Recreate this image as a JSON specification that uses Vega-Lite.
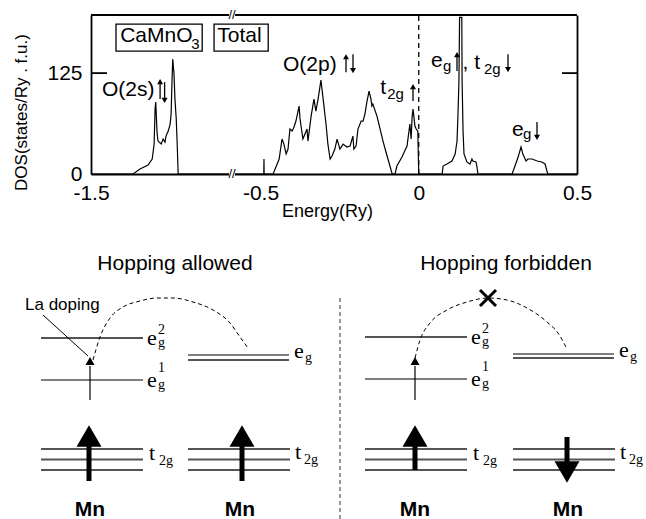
{
  "$schema": "https://vega.github.io/schema/vega-lite/v6.json",
  "padding": {"left": 12, "top": 9, "right": 0, "bottom": 0},
  "config": {"view": {"stroke": null}, "font": "Liberation Sans"},
  "datasets": {
    "dos": [
      {"p":"L","E":-1.5,"D":0},{"p":"L","E":-1.369,"D":0},{"p":"L","E":-1.347,"D":6.2},{"p":"L","E":-1.322,"D":11.1},{"p":"L","E":-1.309,"D":18.6},{"p":"L","E":-1.303,"D":37.1},{"p":"L","E":-1.3,"D":80.4},{"p":"L","E":-1.298,"D":89.1},{"p":"L","E":-1.294,"D":52.0},{"p":"L","E":-1.291,"D":40.8},{"p":"L","E":-1.281,"D":37.1},{"p":"L","E":-1.275,"D":43.3},{"p":"L","E":-1.269,"D":39.6},{"p":"L","E":-1.266,"D":47.0},{"p":"L","E":-1.259,"D":53.2},{"p":"L","E":-1.253,"D":61.9},{"p":"L","E":-1.25,"D":74.3},{"p":"L","E":-1.247,"D":117.6},{"p":"L","E":-1.245,"D":142.3},{"p":"L","E":-1.241,"D":123.8},{"p":"L","E":-1.238,"D":92.8},{"p":"L","E":-1.234,"D":68.1},{"p":"L","E":-1.231,"D":37.1},{"p":"L","E":-1.228,"D":0},{"p":"L","E":-1.06,"D":0},
      {"p":"R","E":-0.59,"D":0},{"p":"R","E":-0.4895,"D":0},{"p":"R","E":-0.489,"D":18.6},{"p":"R","E":-0.4885,"D":0},{"p":"R","E":-0.46,"D":0},{"p":"R","E":-0.441,"D":18.6},{"p":"R","E":-0.432,"D":43.3},{"p":"R","E":-0.426,"D":37.1},{"p":"R","E":-0.419,"D":24.8},{"p":"R","E":-0.413,"D":30.9},{"p":"R","E":-0.407,"D":55.7},{"p":"R","E":-0.4,"D":53.2},{"p":"R","E":-0.394,"D":58.2},{"p":"R","E":-0.388,"D":65.6},{"p":"R","E":-0.378,"D":84.2},{"p":"R","E":-0.375,"D":68.1},{"p":"R","E":-0.366,"D":43.3},{"p":"R","E":-0.353,"D":55.7},{"p":"R","E":-0.35,"D":40.8},{"p":"R","E":-0.34,"D":71.8},{"p":"R","E":-0.331,"D":92.8},{"p":"R","E":-0.325,"D":78.0},{"p":"R","E":-0.318,"D":92.8},{"p":"R","E":-0.309,"D":116.3},{"p":"R","E":-0.302,"D":92.8},{"p":"R","E":-0.293,"D":61.9},{"p":"R","E":-0.287,"D":37.1},{"p":"R","E":-0.28,"D":18.6},{"p":"R","E":-0.274,"D":22.3},{"p":"R","E":-0.265,"D":30.9},{"p":"R","E":-0.258,"D":43.3},{"p":"R","E":-0.249,"D":30.9},{"p":"R","E":-0.239,"D":37.1},{"p":"R","E":-0.227,"D":33.4},{"p":"R","E":-0.217,"D":34.7},{"p":"R","E":-0.208,"D":47.0},{"p":"R","E":-0.205,"D":30.9},{"p":"R","E":-0.198,"D":34.7},{"p":"R","E":-0.192,"D":55.7},{"p":"R","E":-0.182,"D":65.6},{"p":"R","E":-0.176,"D":65.6},{"p":"R","E":-0.17,"D":74.3},{"p":"R","E":-0.164,"D":89.1},{"p":"R","E":-0.157,"D":102.7},{"p":"R","E":-0.151,"D":92.8},{"p":"R","E":-0.148,"D":84.2},{"p":"R","E":-0.145,"D":86.6},{"p":"R","E":-0.132,"D":71.8},{"p":"R","E":-0.122,"D":55.7},{"p":"R","E":-0.113,"D":40.8},{"p":"R","E":-0.1,"D":22.3},{"p":"R","E":-0.091,"D":9.9},{"p":"R","E":-0.084,"D":0},{"p":"R","E":-0.075,"D":0},{"p":"R","E":-0.069,"D":9.9},{"p":"R","E":-0.053,"D":21.0},{"p":"R","E":-0.037,"D":34.7},{"p":"R","E":-0.028,"D":61.9},{"p":"R","E":-0.024,"D":43.3},{"p":"R","E":-0.021,"D":70.5},{"p":"R","E":-0.018,"D":80.4},{"p":"R","E":-0.012,"D":59.4},{"p":"R","E":-0.008,"D":55.7},{"p":"R","E":-0.003,"D":53.2},{"p":"R","E":0.0,"D":0},{"p":"R","E":0.074,"D":0},{"p":"R","E":0.077,"D":9.9},{"p":"R","E":0.089,"D":12.4},{"p":"R","E":0.105,"D":16.1},{"p":"R","E":0.115,"D":24.8},{"p":"R","E":0.121,"D":40.8},{"p":"R","E":0.124,"D":74.3},{"p":"R","E":0.127,"D":115.1},{"p":"R","E":0.129,"D":194},{"p":"R","E":0.136,"D":194},{"p":"R","E":0.137,"D":115.1},{"p":"R","E":0.14,"D":53.2},{"p":"R","E":0.143,"D":24.8},{"p":"R","E":0.152,"D":14.9},{"p":"R","E":0.162,"D":12.4},{"p":"R","E":0.168,"D":18.6},{"p":"R","E":0.171,"D":16.1},{"p":"R","E":0.181,"D":14.9},{"p":"R","E":0.184,"D":8.7},{"p":"R","E":0.187,"D":0},{"p":"R","E":0.295,"D":0},{"p":"R","E":0.304,"D":9.9},{"p":"R","E":0.314,"D":21.0},{"p":"R","E":0.323,"D":33.4},{"p":"R","E":0.329,"D":24.8},{"p":"R","E":0.339,"D":16.1},{"p":"R","E":0.345,"D":18.6},{"p":"R","E":0.358,"D":18.6},{"p":"R","E":0.374,"D":16.1},{"p":"R","E":0.389,"D":14.9},{"p":"R","E":0.399,"D":12.4},{"p":"R","E":0.405,"D":3.7},{"p":"R","E":0.408,"D":0},{"p":"R","E":0.5,"D":0}
    ]
  },
  "spacing": 15,
  "vconcat": [
    {
      "hconcat": [
        {
          "width": 141, "height": 159,
          "encoding": {
            "x": {"field": "E", "type": "quantitative", "scale": {"domain": [-1.5, -1.06], "nice": false, "zero": false},
                  "axis": {"values": [-1.5], "labelExpr": "datum.value == 0 ? '0' : (datum.value < 0 ? '-' : '') + format(abs(datum.value), '.1f')", "title": null, "ticks": false, "grid": false, "labelFontSize": 21, "labelPadding": 8, "labelFlush": false, "labelColor": "black", "domainColor": "black", "domainWidth": 1.8}},
            "y": {"field": "D", "type": "quantitative", "scale": {"domain": [0, 197], "nice": false, "zero": false},
                  "axis": {"values": [0, 125], "ticks": false, "grid": false, "labelFontSize": 21, "labelPadding": 9, "labelColor": "black", "domainColor": "black", "domainWidth": 1.8,
                           "title": "DOS(states/Ry . f.u.)", "titleFontSize": 17, "titleFontWeight": "normal", "titleColor": "black", "titleX": -70, "titleY": 97, "titleAngle": 270, "titleAlign": "center", "titleBaseline": "middle"}}
          },
          "layer": [
            {"data": {"name": "dos"}, "transform": [{"filter": "datum.p == 'L'"}], "mark": {"type": "line", "color": "black", "strokeWidth": 1.2}},
            {"data": {"values": [{"E": -1.5, "E2": -1.06, "D": 197}, {"E": -1.5, "E2": -1.45, "D": 125}]}, "mark": {"type": "rule", "color": "black", "strokeWidth": 1.8}, "encoding": {"x2": {"field": "E2"}}},
            {"data": {"values": [{"E": -1.422, "E2": -1.153, "D": 152.2, "D2": 185.6}, {"E": -1.116, "E2": -0.947, "D": 152.2, "D2": 185.6}]}, "mark": {"type": "rect", "filled": false, "color": "black", "strokeWidth": 1.3}, "encoding": {"x2": {"field": "E2"}, "y2": {"field": "D2"}}},
            {"data": {"values": [{"E": -1.409, "D": 163.4, "t": "CaMnO"}, {"E": -1.106, "D": 163.4, "t": "Total"}, {"E": -1.466, "D": 96.5, "t": "O(2s)"}]}, "mark": {"type": "text", "align": "left", "baseline": "alphabetic", "fontSize": 21, "color": "black"}, "encoding": {"text": {"field": "t"}}},
            {"data": {"values": [{"E": -1.187, "D": 154.7, "t": "3"}]}, "mark": {"type": "text", "align": "left", "baseline": "alphabetic", "fontSize": 15, "color": "black"}, "encoding": {"text": {"field": "t"}}},
            {"data": {"values": [{"E": -1.2844, "D": 92.8, "D2": 115}, {"E": -1.2703, "D": 113.9, "D2": 91}]}, "mark": {"type": "rule", "color": "black", "strokeWidth": 1.3}, "encoding": {"y2": {"field": "D2"}}},
            {"data": {"values": [{"E": -1.2844, "D": 114.4}]}, "mark": {"type": "point", "shape": "triangle-up", "size": 36, "filled": true, "color": "black", "opacity": 1}},
            {"data": {"values": [{"E": -1.2703, "D": 91.1}]}, "mark": {"type": "point", "shape": "triangle-down", "size": 36, "filled": true, "color": "black", "opacity": 1}}
          ]
        },
        {
          "width": 345, "height": 159,
          "encoding": {
            "x": {"field": "E", "type": "quantitative", "scale": {"domain": [-0.59, 0.5], "nice": false, "zero": false},
                  "axis": {"values": [-0.5, 0, 0.5], "labelExpr": "datum.value == 0 ? '0' : (datum.value < 0 ? '-' : '') + format(abs(datum.value), '.1f')", "ticks": false, "grid": false, "labelFontSize": 21, "labelPadding": 8, "labelFlush": false, "labelColor": "black", "domainColor": "black", "domainWidth": 1.8,
                           "title": "Energy(Ry)", "titleFontSize": 18, "titleFontWeight": "normal", "titleColor": "black", "titleX": 95, "titleY": 37, "titleAlign": "center", "titleBaseline": "middle"}},
            "y": {"field": "D", "type": "quantitative", "scale": {"domain": [0, 197], "nice": false, "zero": false},
                  "axis": {"orient": "right", "labels": false, "ticks": false, "grid": false, "title": null, "domainColor": "black", "domainWidth": 1.8}}
          },
          "layer": [
            {"data": {"name": "dos"}, "transform": [{"filter": "datum.p == 'R'"}], "mark": {"type": "line", "color": "black", "strokeWidth": 1.2}},
            {"data": {"values": [{"E": -0.59, "E2": 0.5, "D": 197}, {"E": 0.4526, "E2": 0.5, "D": 125}]}, "mark": {"type": "rule", "color": "black", "strokeWidth": 1.8}, "encoding": {"x2": {"field": "E2"}}},
            {"data": {"values": [{"E": 0, "D": 0, "D2": 197}]}, "mark": {"type": "rule", "color": "black", "strokeWidth": 1.3, "strokeDash": [5, 4]}, "encoding": {"y2": {"field": "D2"}}},
            {"data": {"values": [{"E": -0.5995, "E2": -0.5805, "D": 193.3, "D2": 200.7}, {"E": -0.5995, "E2": -0.5805, "D": -3.7, "D2": 3.7}]}, "mark": {"type": "rect", "color": "white"}, "encoding": {"x2": {"field": "E2"}, "y2": {"field": "D2"}}},
            {"data": {"values": [{"E": -0.59, "D": 197, "t": "//"}, {"E": -0.59, "D": 0, "t": "//"}]}, "mark": {"type": "text", "align": "center", "baseline": "middle", "fontSize": 13, "color": "black"}, "encoding": {"text": {"field": "t"}}},
            {"data": {"values": [
              {"E": -0.429, "D": 127.5, "t": "O(2p)"},
              {"E": -0.122, "D": 99.0, "t": "t"},
              {"E": 0.0387, "D": 132.4, "t": "e"},
              {"E": 0.1383, "D": 130.0, "t": ", t"},
              {"E": 0.2947, "D": 47.0, "t": "e"}
            ]}, "mark": {"type": "text", "align": "left", "baseline": "alphabetic", "fontSize": 21, "color": "black"}, "encoding": {"text": {"field": "t"}}},
            {"data": {"values": [
              {"E": -0.0997, "D": 92.8, "t": "2g"},
              {"E": 0.0767, "D": 128.0, "t": "g"},
              {"E": 0.2061, "D": 123.8, "t": "2g"},
              {"E": 0.3294, "D": 43.3, "t": "g"}
            ]}, "mark": {"type": "text", "align": "left", "baseline": "alphabetic", "fontSize": 15, "color": "black"}, "encoding": {"text": {"field": "t"}}},
            {"data": {"values": [
              {"E": -0.2298, "D": 126.2, "D2": 146}, {"E": -0.2077, "D": 148.5, "D2": 127.5}, {"E": -0.0181, "D": 90.3, "D2": 109},
              {"E": 0.1209, "D": 127.5, "D2": 148.5}, {"E": 0.282, "D": 148.5, "D2": 128.5}, {"E": 0.3736, "D": 64.4, "D2": 44.5}
            ]}, "mark": {"type": "rule", "color": "black", "strokeWidth": 1.3}, "encoding": {"y2": {"field": "D2"}}},
            {"data": {"values": [{"E": -0.2298, "D": 145.3}, {"E": -0.0181, "D": 108.2}, {"E": 0.1209, "D": 147.8}]}, "mark": {"type": "point", "shape": "triangle-up", "size": 36, "filled": true, "color": "black", "opacity": 1}},
            {"data": {"values": [{"E": -0.2077, "D": 128.2}, {"E": 0.282, "D": 129.4}, {"E": 0.3736, "D": 45.3}]}, "mark": {"type": "point", "shape": "triangle-down", "size": 36, "filled": true, "color": "black", "opacity": 1}}
          ]
        }
      ],
      "spacing": 0,
      "bounds": "flush"
    },
    {
      "width": 555, "height": 284,
      "encoding": {
        "x": {"field": "u", "type": "quantitative", "scale": {"domain": [0, 55.5], "nice": false, "zero": false}, "axis": null},
        "y": {"field": "v", "type": "quantitative", "scale": {"domain": [0, 28.4], "nice": false, "zero": false}, "axis": null}
      },
      "layer": [
        {"data": {"values": [
          {"u": -5.0, "u2": 5.2, "v": 18.1}, {"u": 27.4, "u2": 37.6, "v": 18.2},
          {"u": 9.7, "u2": 19.8, "v": 15.9}, {"u": 42.2, "u2": 52.3, "v": 16.1},
          {"u": -5.0, "u2": 5.2, "v": 7.0}, {"u": -5.0, "u2": 5.2, "v": 5.95}, {"u": -5.0, "u2": 5.2, "v": 4.9},
          {"u": 9.7, "u2": 19.9, "v": 7.0}, {"u": 9.7, "u2": 19.9, "v": 5.95}, {"u": 9.7, "u2": 19.9, "v": 4.9},
          {"u": 27.4, "u2": 37.6, "v": 7.0}, {"u": 27.4, "u2": 37.6, "v": 5.95}, {"u": 27.4, "u2": 37.6, "v": 4.9},
          {"u": 42.2, "u2": 52.4, "v": 7.0}, {"u": 42.2, "u2": 52.4, "v": 5.95}, {"u": 42.2, "u2": 52.4, "v": 4.9}
        ]}, "mark": {"type": "rule", "color": "#555555", "strokeWidth": 2}, "encoding": {"x2": {"field": "u2"}}},
        {"data": {"values": [
          {"u": -5.0, "u2": 5.2, "v": 13.9}, {"u": 27.4, "u2": 37.6, "v": 14.0},
          {"u": 9.7, "u2": 19.8, "v": 16.4}, {"u": 42.2, "u2": 52.3, "v": 16.5}
        ]}, "mark": {"type": "rule", "color": "black", "strokeWidth": 1.2}, "encoding": {"x2": {"field": "u2"}}},
        {"data": {"values": [{"u": -4.8, "v": 20.4, "u2": -0.3, "v2": 16.3}]}, "mark": {"type": "rule", "color": "black", "strokeWidth": 1}, "encoding": {"x2": {"field": "u2"}, "y2": {"field": "v2"}}},
        {"data": {"values": [
          {"arc": "a", "u": 0.2, "v": 15.9}, {"arc": "a", "u": 0.9, "v": 18.2}, {"arc": "a", "u": 1.9, "v": 20.1}, {"arc": "a", "u": 3.2, "v": 21.2}, {"arc": "a", "u": 4.9, "v": 21.8}, {"arc": "a", "u": 6.6, "v": 22.1}, {"arc": "a", "u": 8.2, "v": 22.1}, {"arc": "a", "u": 10.2, "v": 21.7}, {"arc": "a", "u": 12.2, "v": 20.9}, {"arc": "a", "u": 13.9, "v": 19.6}, {"arc": "a", "u": 14.9, "v": 18.2}, {"arc": "a", "u": 15.7, "v": 17.1},
          {"arc": "f", "u": 32.4, "v": 16.1}, {"arc": "f", "u": 32.9, "v": 17.9}, {"arc": "f", "u": 33.9, "v": 19.6}, {"arc": "f", "u": 35.6, "v": 20.9}, {"arc": "f", "u": 37.6, "v": 21.7}, {"arc": "f", "u": 39.7, "v": 22.1}, {"arc": "f", "u": 41.6, "v": 21.9}, {"arc": "f", "u": 43.6, "v": 21.1}, {"arc": "f", "u": 45.6, "v": 19.7}, {"arc": "f", "u": 46.7, "v": 18.6}, {"arc": "f", "u": 47.6, "v": 17.0}
        ]}, "mark": {"type": "line", "color": "black", "strokeWidth": 1, "strokeDash": [4, 3], "interpolate": "monotone"}, "encoding": {"detail": {"field": "arc"}}},
        {"data": {"values": [{"u": 24.9, "v": 0, "v2": 22.1}]}, "mark": {"type": "rule", "color": "#333333", "strokeWidth": 1, "strokeDash": [4, 3]}, "encoding": {"y2": {"field": "v2"}}},
        {"data": {"values": [{"u": -0.2, "v": 3.8, "v2": 7.6}, {"u": 15.1, "v": 3.8, "v2": 7.6}, {"u": 32.4, "v": 4.9, "v2": 7.6}, {"u": 47.6, "v": 5.3, "v2": 8.2}]}, "mark": {"type": "rule", "color": "black", "strokeWidth": 5}, "encoding": {"y2": {"field": "v2"}}},
        {"data": {"values": [{"u": -0.2, "v": 8.3}, {"u": 15.1, "v": 8.3}, {"u": 32.4, "v": 8.3}]}, "mark": {"type": "point", "shape": "triangle-up", "size": 625, "filled": true, "color": "black", "opacity": 1}},
        {"data": {"values": [{"u": 47.6, "v": 4.7}]}, "mark": {"type": "point", "shape": "triangle-down", "size": 625, "filled": true, "color": "black", "opacity": 1}},
        {"data": {"values": [{"u": -0.1, "v": 11.9, "v2": 15.3}, {"u": 32.4, "v": 11.9, "v2": 15.3}]}, "mark": {"type": "rule", "color": "black", "strokeWidth": 1.2}, "encoding": {"y2": {"field": "v2"}}},
        {"data": {"values": [{"u": -0.1, "v": 15.8}, {"u": 32.4, "v": 15.8}]}, "mark": {"type": "point", "shape": "triangle-up", "size": 81, "filled": true, "color": "black", "opacity": 1}},
        {"data": {"values": [{"u": 39.7, "v": 22.1}]}, "mark": {"type": "point", "shape": "M-1,-1L1,1M1,-1L-1,1", "size": 256, "filled": false, "color": "black", "strokeWidth": 3, "opacity": 1}},
        {"data": {"values": [{"u": 8.4, "v": 24.9, "t": "Hopping allowed"}, {"u": 41.5, "v": 24.9, "t": "Hopping forbidden"}]}, "mark": {"type": "text", "align": "center", "baseline": "alphabetic", "fontSize": 21, "color": "black"}, "encoding": {"text": {"field": "t"}}},
        {"data": {"values": [{"u": -6.6, "v": 20.9, "t": "La doping"}]}, "mark": {"type": "text", "align": "left", "baseline": "alphabetic", "fontSize": 17, "color": "black"}, "encoding": {"text": {"field": "t"}}},
        {"data": {"values": [{"u": -0.1, "v": 0.3, "t": "Mn"}, {"u": 14.9, "v": 0.3, "t": "Mn"}, {"u": 32.4, "v": 0.3, "t": "Mn"}, {"u": 47.7, "v": 0.3, "t": "Mn"}]}, "mark": {"type": "text", "align": "center", "baseline": "alphabetic", "fontSize": 21, "fontWeight": "bold", "color": "black"}, "encoding": {"text": {"field": "t"}}},
        {"data": {"values": [
          {"u": 5.6, "v": 17.4, "t": "e"}, {"u": 5.6, "v": 13.2, "t": "e"}, {"u": 5.8, "v": 5.9, "t": "t"},
          {"u": 20.3, "v": 16.1, "t": "e"}, {"u": 20.4, "v": 6.0, "t": "t"},
          {"u": 38.0, "v": 17.5, "t": "e"}, {"u": 38.0, "v": 13.3, "t": "e"}, {"u": 38.2, "v": 5.9, "t": "t"},
          {"u": 52.8, "v": 16.2, "t": "e"}, {"u": 52.9, "v": 6.0, "t": "t"}
        ]}, "mark": {"type": "text", "align": "left", "baseline": "alphabetic", "font": "Liberation Serif", "fontSize": 22, "color": "black"}, "encoding": {"text": {"field": "t"}}},
        {"data": {"values": [
          {"u": 6.7, "v": 18.5, "t": "2"}, {"u": 6.7, "v": 17.2, "t": "g"}, {"u": 6.7, "v": 14.7, "t": "1"}, {"u": 6.7, "v": 13.0, "t": "g"}, {"u": 6.8, "v": 5.45, "t": "2g"},
          {"u": 21.4, "v": 15.7, "t": "g"}, {"u": 21.3, "v": 5.5, "t": "2g"},
          {"u": 39.1, "v": 18.6, "t": "2"}, {"u": 39.1, "v": 17.3, "t": "g"}, {"u": 39.1, "v": 14.8, "t": "1"}, {"u": 39.1, "v": 13.1, "t": "g"}, {"u": 39.2, "v": 5.45, "t": "2g"},
          {"u": 53.9, "v": 15.8, "t": "g"}, {"u": 53.8, "v": 5.5, "t": "2g"}
        ]}, "mark": {"type": "text", "align": "left", "baseline": "alphabetic", "font": "Liberation Serif", "fontSize": 14, "color": "black"}, "encoding": {"text": {"field": "t"}}}
      ]
    }
  ]
}
